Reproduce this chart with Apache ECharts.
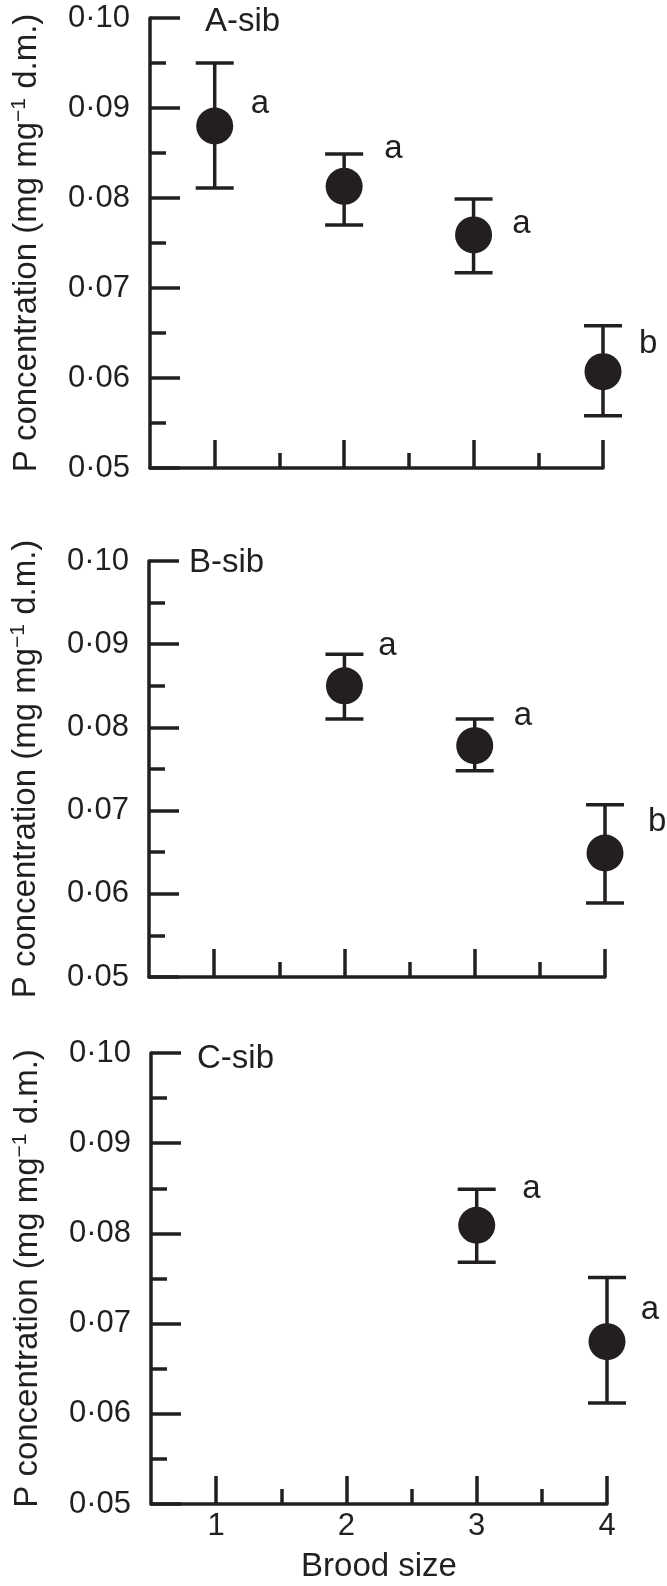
<!DOCTYPE html>
<html>
<head>
<meta charset="utf-8">
<script src="https://cdn.jsdelivr.net/npm/echarts@6/dist/echarts.min.js"></script>
<style>
  html, body { margin: 0; padding: 0; background: #fff; }
  #main { width: 667px; height: 1586px; }
</style>
</head>
<body>
<div id="main"></div>
<script>
// brood size ticks
const broodTicks = [1, 2, 3, 4];
const broodHalfTicks = [1.5, 2.5, 3.5];

// A-sib
const broodA = [1, 2, 3, 4];
const meanA = [0.0880, 0.0813, 0.0759, 0.0607];
const lowA = [0.0811, 0.0770, 0.0717, 0.0558];
const highA = [0.0950, 0.0849, 0.0799, 0.0658];
const letterA = ['a', 'a', 'a', 'b'];
const letterXA = [1.35, 2.38, 3.37, 4.35];
const letterYA = [0.0904, 0.0854, 0.0771, 0.0638];

// B-sib
const broodB = [2, 3, 4];
const meanB = [0.0850, 0.0778, 0.0649];
const lowB = [0.0810, 0.0748, 0.0589];
const highB = [0.0888, 0.0810, 0.0707];
const letterB = ['a', 'a', 'b'];
const letterXB = [2.33, 3.37, 4.40];
const letterYB = [0.0898, 0.0814, 0.0686];

// C-sib
const broodC = [3, 4];
const meanC = [0.0809, 0.0680];
const lowC = [0.0768, 0.0612];
const highC = [0.0849, 0.0751];
const letterC = ['a', 'a'];
const letterXC = [3.42, 4.33];
const letterYC = [0.0849, 0.0715];

const panelNames = ['A-sib', 'B-sib', 'C-sib'];

let ink = '#231f20';
let font = '"Liberation Sans", Arial, Helvetica, sans-serif';

let panels = [
    {brood: broodA, mean: meanA, low: lowA, high: highA, letter: letterA, lx: letterXA, ly: letterYA},
    {brood: broodB, mean: meanB, low: lowB, high: highB, letter: letterB, lx: letterXB, ly: letterYB},
    {brood: broodC, mean: meanC, low: lowC, high: highC, letter: letterC, lx: letterXC, ly: letterYC}
];

// layout of the three stacked plots
let boxes = [
    {left: 150, top: 18, width: 453, height: 450, titleLeft: 205, titleTop: 5},
    {left: 149, top: 561, width: 456, height: 416, titleLeft: 189, titleTop: 546},
    {left: 151, top: 1053, width: 456, height: 451, titleLeft: 197, titleTop: 1042}
];

let lineStyle = {color: ink, width: 3.5};

let grid = [], xAxis = [], yAxis = [], series = [], title = [];

panels.forEach(function(p, k) {
    let b = boxes[k];
    let last = k === panels.length - 1;
    grid.push({left: b.left, top: b.top, width: b.width, height: b.height});
    title.push({
        text: panelNames[k], left: b.titleLeft, top: b.titleTop, padding: 0,
        textStyle: {fontSize: 33, fontWeight: 'normal', color: ink, fontFamily: font}
    });

    xAxis.push({
        gridIndex: k, type: 'value', min: 0.5, max: 4, position: 'bottom',
        axisLine: {show: true, onZero: false, lineStyle: lineStyle},
        axisTick: {show: true, inside: true, length: 28, customValues: broodTicks, lineStyle: lineStyle},
        axisLabel: {show: last, customValues: broodTicks, fontSize: 31, color: ink, fontFamily: font, margin: 7},
        splitLine: {show: false},
        name: last ? 'Brood size' : '',
        nameLocation: 'middle', nameGap: 46,
        nameTextStyle: {fontSize: 33, color: ink, fontFamily: font}
    });
    xAxis.push({
        gridIndex: k, type: 'value', min: 0.5, max: 4, position: 'bottom',
        axisLine: {show: false, onZero: false},
        axisTick: {show: true, inside: true, length: 15, customValues: broodHalfTicks, lineStyle: lineStyle},
        axisLabel: {show: false},
        splitLine: {show: false}
    });

    yAxis.push({
        gridIndex: k, type: 'value', min: 0.05, max: 0.10, interval: 0.01,
        axisLine: {show: true, onZero: false, lineStyle: lineStyle},
        axisTick: {show: true, inside: true, length: 30, lineStyle: lineStyle},
        minorTick: {show: true, splitNumber: 2, length: 16, lineStyle: lineStyle},
        splitLine: {show: false},
        axisLabel: {
            fontSize: 31, color: ink, fontFamily: font, margin: 20,
            formatter: function(v) { return v.toFixed(2).replace('.', '\u00b7'); }
        },
        name: '{n|P concentration (mg mg}{s|\u22121}{n| d.m.)}',
        nameLocation: 'middle', nameGap: 105, nameRotate: 90,
        nameTextStyle: {
            color: ink, fontFamily: font, fontSize: 33,
            rich: {
                n: {fontSize: 33, lineHeight: 36, color: ink, fontFamily: font},
                s: {fontSize: 21, lineHeight: 21, verticalAlign: 'top', color: ink, fontFamily: font}
            }
        }
    });

    let bars = p.brood.map((x, i) => [x, p.low[i], p.high[i]]);
    let pts = p.brood.map((x, i) => [x, p.mean[i]]);
    let letters = p.letter.map((t, i) => ({name: t, value: [p.lx[i], p.ly[i]]}));

    series.push({
        type: 'custom', xAxisIndex: 2 * k, yAxisIndex: k,
        data: bars,
        encode: {x: 0, y: [1, 2]},
        clip: false,
        renderItem: function(params, api) {
            let x = api.value(0);
            let lo = api.coord([x, api.value(1)]);
            let hi = api.coord([x, api.value(2)]);
            let hw = 19;
            let st = {stroke: ink, lineWidth: 3.5};
            return {
                type: 'group',
                children: [
                    {type: 'line', shape: {x1: lo[0], y1: lo[1], x2: hi[0], y2: hi[1]}, style: st},
                    {type: 'line', shape: {x1: hi[0] - hw, y1: hi[1], x2: hi[0] + hw, y2: hi[1]}, style: st},
                    {type: 'line', shape: {x1: lo[0] - hw, y1: lo[1], x2: lo[0] + hw, y2: lo[1]}, style: st}
                ]
            };
        },
        z: 2
    });
    series.push({
        type: 'scatter', xAxisIndex: 2 * k, yAxisIndex: k,
        symbol: 'circle', symbolSize: 37,
        clip: false,
        itemStyle: {color: ink, opacity: 1},
        data: pts,
        z: 3
    });
    series.push({
        type: 'scatter', xAxisIndex: 2 * k, yAxisIndex: k,
        symbolSize: 1,
        clip: false,
        itemStyle: {color: 'rgba(0,0,0,0)', opacity: 1},
        label: {show: true, position: 'inside', formatter: '{b}', fontSize: 33, color: ink, fontFamily: font},
        data: letters,
        z: 4
    });
});

let chart = echarts.init(document.getElementById('main'), null, {renderer: 'canvas'});
chart.setOption({
    animation: false,
    backgroundColor: '#fff',
    title: title,
    grid: grid,
    xAxis: xAxis,
    yAxis: yAxis,
    series: series
});
</script>
</body>
</html>
